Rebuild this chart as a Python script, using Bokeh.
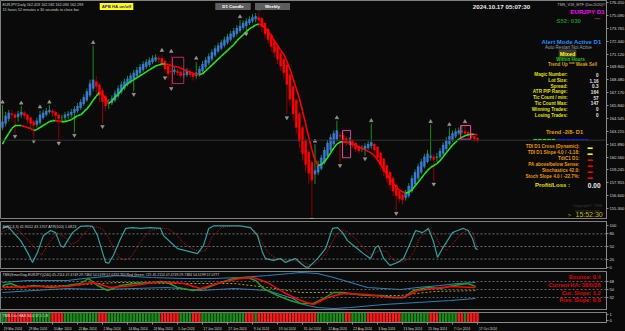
from bokeh.plotting import figure
from bokeh.layouts import column
from bokeh.models import Range1d, FixedTicker, Label, Span, NumeralTickFormatter, ColumnDataSource
from bokeh.embed import file_html
from bokeh.resources import INLINE

# ---------------- data ----------------
opens = [163.6,164.0,164.5,165.0,164.9,164.7,164.9,165.1,164.9,164.6,164.2,163.9,164.1,164.6,164.9,165.2,165.3,165.2,164.9,164.6,
         164.6,164.8,164.9,165.1,165.3,165.6,166.0,166.4,166.9,167.6,168.3,168.0,167.4,166.8,166.0,166.1,166.4,166.8,167.2,167.6,
         168.0,168.3,168.6,168.9,169.2,169.5,169.8,170.0,170.3,170.5,170.7,170.7,170.4,169.9,169.4,169.3,169.4,169.3,169.0,169.0,
         169.3,169.1,168.9,169.0,169.4,169.8,170.2,170.6,171.0,171.4,171.7,172.0,172.3,172.6,172.9,173.2,173.5,173.8,174.0,174.3,
         174.5,174.7,174.9,174.8,174.3,173.7,173.1,172.5,171.9,171.2,170.6,170.0,169.0,167.8,166.4,165.0,163.6,162.3,161.1,160.0,
         158.8,159.0,159.4,160.0,160.7,161.3,161.9,162.4,162.8,162.8,162.5,162.2,162.2,162.0,161.7,161.4,161.4,161.5,161.7,161.9,
         161.6,161.0,160.4,159.7,159.0,158.4,157.7,157.1,156.7,156.4,156.6,157.1,157.8,158.4,159.0,159.6,160.1,160.5,160.6,160.5,
         160.6,160.9,161.4,161.9,162.3,162.7,163.0,163.2,163.2,163.1,162.9,162.7,162.5]
highs = [165.9,165.2,165.4,165.4,165.1,165.3,165.8,165.3,165.0,164.7,164.4,164.6,165.3,165.4,165.6,165.9,165.5,165.3,165.0,164.9,
         165.2,165.3,165.5,165.8,166.1,166.5,167.0,167.6,168.5,172.0,168.9,168.2,167.6,167.0,166.5,166.9,167.4,167.9,168.3,168.6,
         168.9,169.2,169.5,169.8,170.1,170.4,170.6,170.8,171.0,171.1,171.0,171.1,170.5,170.0,171.0,169.8,169.6,169.4,169.4,169.7,
         169.6,169.2,170.3,169.9,170.4,170.8,171.2,171.6,172.0,172.3,172.6,172.9,173.2,173.5,173.8,174.1,174.6,174.6,174.8,175.0,
         175.2,175.3,175.4,174.9,174.4,173.8,173.2,172.6,172.0,171.4,170.8,170.2,169.2,168.0,166.6,165.2,163.8,162.5,161.3,160.2,
         161.9,160.2,160.8,161.6,162.3,162.9,163.3,164.3,163.1,163.0,162.7,162.6,162.4,162.1,161.8,161.8,162.0,162.2,164.0,162.0,
         161.7,161.1,160.5,159.8,159.1,158.5,157.8,157.2,156.9,157.2,157.9,158.7,159.3,159.9,160.4,160.9,161.3,163.9,160.9,161.0,
         161.5,162.1,162.6,163.6,163.3,163.5,163.6,163.8,163.9,163.3,163.1,162.9,162.6]
lows = [163.3,163.7,164.2,164.3,163.0,164.2,164.6,164.5,164.0,163.5,162.5,163.6,163.9,164.4,164.7,165.0,164.7,164.3,162.3,164.1,
        164.3,164.5,164.6,163.1,165.1,165.4,165.8,166.2,166.7,167.3,167.0,166.2,164.0,165.3,165.5,165.9,166.2,166.6,167.0,167.4,
        167.8,168.1,167.3,168.7,169.0,169.3,169.6,169.8,170.1,170.3,170.2,169.8,169.2,168.5,167.9,169.0,168.9,168.6,168.7,168.8,
        168.7,168.4,168.6,168.8,169.2,169.6,170.0,170.4,170.8,171.2,171.5,171.8,172.1,172.4,172.7,173.0,173.3,173.6,173.5,174.1,
        174.3,174.4,173.9,173.4,172.7,172.2,171.4,170.8,170.1,169.4,168.6,165.0,165.8,164.3,162.9,161.5,160.2,159.0,157.8,154.5,
        157.8,158.7,159.2,159.8,160.5,161.1,161.7,162.2,160.0,162.0,161.7,161.8,161.5,161.1,160.9,161.1,160.7,161.3,161.4,161.0,
        160.1,159.3,158.6,157.9,157.2,156.6,155.1,155.9,155.7,156.1,156.4,156.9,157.6,158.2,158.8,159.4,159.9,160.2,158.1,160.1,
        160.4,160.7,161.2,161.7,162.1,162.5,162.8,162.9,162.7,162.5,162.3,162.1,162.1]
closes = [164.2,164.8,165.1,164.9,164.6,165.0,165.2,164.8,164.4,164.0,163.8,164.3,164.9,165.1,165.3,165.4,165.1,164.8,164.5,164.6,
          164.9,165.0,165.2,165.5,165.8,166.2,166.7,167.3,168.1,168.5,167.8,166.9,166.2,165.8,166.1,166.6,167.1,167.6,168.0,168.3,
          168.6,168.9,169.2,169.5,169.8,170.1,170.3,170.5,170.7,170.8,170.6,170.1,169.6,169.1,169.3,169.5,169.2,168.9,169.1,169.4,
          169.0,168.8,169.2,169.6,170.1,170.5,170.9,171.3,171.7,172.0,172.3,172.6,172.9,173.2,173.5,173.8,174.0,174.3,174.5,174.7,
          174.9,175.0,174.6,173.9,173.2,172.6,171.9,171.3,170.6,169.9,169.2,168.0,166.5,165.0,163.6,162.2,160.9,159.8,158.9,158.2,
          159.2,159.8,160.5,161.3,162.0,162.6,163.0,163.3,162.7,162.3,162.0,162.2,161.8,161.4,161.2,161.5,161.7,161.9,162.1,161.3,
          160.5,159.8,159.1,158.4,157.7,157.1,156.6,156.3,156.2,156.9,157.6,158.4,159.0,159.6,160.1,160.6,160.9,160.7,160.3,160.6,
          161.2,161.8,162.3,162.7,163.0,163.2,163.3,163.25,163.0,162.8,162.6,162.4,162.3]
trend_ma = [161.9,162.5,163.0,163.5,163.8,163.8,163.8,163.7,163.6,163.5,163.3,163.4,163.6,163.8,164.0,164.2,164.3,164.3,164.25,164.2,
            164.2,164.3,164.4,164.6,164.8,164.9,165.2,165.5,165.9,166.4,166.8,167.2,167.0,166.6,166.1,166.3,166.7,167.0,167.4,167.8,
            168.1,168.3,168.5,168.7,168.9,169.1,169.3,169.5,169.7,169.9,170.0,170.1,170.1,170.05,169.95,169.85,169.8,169.7,169.55,169.4,
            169.3,169.15,169.05,169.0,169.1,169.4,169.7,170.0,170.3,170.6,170.9,171.2,171.5,171.8,172.1,172.5,172.8,173.1,173.4,173.7,
            173.9,174.1,174.2,174.1,173.8,173.4,173.0,172.5,172.0,171.5,171.1,170.4,169.6,168.6,167.6,166.6,165.3,164.0,162.6,161.3,
            160.3,159.7,159.8,160.1,160.5,161.0,161.5,161.9,162.1,162.15,162.1,162.0,161.9,161.75,161.6,161.5,161.3,161.15,161.0,160.7,
            160.3,159.8,159.3,158.8,158.3,157.9,157.5,157.2,157.0,156.9,156.95,157.2,157.6,158.0,158.4,158.8,159.2,159.5,159.7,159.9,
            160.2,160.6,161.0,161.4,161.8,162.1,162.4,162.6,162.75,162.85,162.9,162.9,162.85]
up_mark_bar = [0, 6, 12, 15, 29, 51, 54, 62, 76, 82, 100, 107, 118, 137, 143, 148]
up_mark_price = [166.2, 166.1, 165.7, 166.2, 172.3, 171.5, 171.4, 170.7, 174.95, 175.75, 162.2, 164.6, 164.3, 164.2, 163.9, 164.2]
dn_mark_bar = [4, 10, 18, 23, 32, 42, 52, 54, 78, 91, 99, 108, 116, 126, 138]
dn_mark_price = [162.7, 162.2, 162.0, 162.8, 163.7, 167.0, 168.7, 167.6, 173.2, 164.6, 154.2, 159.7, 160.4, 154.8, 157.8]
zone_left = [54.4, 108.8, 146.6]
zone_right = [58.0, 111.4, 149.8]
zone_top = [170.8, 163.3, 163.8]
zone_bottom = [168.1, 160.5, 162.4]
zone_colors = ["#b4286e", "#e0409a", "#ff40b0"]
price_ticks = [176.410, 175.090, 173.765, 172.440, 171.120, 169.800, 168.480, 167.170, 165.840, 164.545,
               163.215, 161.890, 160.560, 159.245, 157.915, 156.600, 155.300]
last_price = 162.299

date_bars = [0, 8, 16, 24, 32, 40, 48, 56, 64, 72, 80, 88, 96, 104, 112, 120, 128, 136, 144, 152]
date_labels = ["19 Mar 2024", "29 Mar 2024", "10 Apr 2024", "22 Apr 2024", "2 May 2024", "14 May 2024",
               "24 May 2024", "5 Jun 2024", "17 Jun 2024", "27 Jun 2024", "9 Jul 2024", "19 Jul 2024",
               "31 Jul 2024", "12 Aug 2024", "22 Aug 2024", "3 Sep 2024", "13 Sep 2024", "25 Sep 2024",
               "7 Oct 2024", "17 Oct 2024"]

sto_bar = [0,1.6,3.5,5.8,8,9.6,11.2,13.1,15.4,17,18.6,19.5,20.8,22.4,25,27.2,28.8,30.4,32,33,
           34,35.5,37.8,39.4,41.6,44.2,47.4,50.6,51.5,53.8,56,58.6,60.8,62.4,64.3,66,67.5,72,76,79.4,
           81.6,83.2,84.2,86.7,89,90.6,92,93.8,95.4,97,98,100.8,103.4,105.6,107.2,108.8,110.4,113,115.5,117.8,
           119.4,120.3,122,124,126.4,128.3,130.6,132.2,134.4,136.3,138,139.2,141,144,145.6,147.5,149,150.4,151.4,152]
sto_k = [93,99,83,64,36,12,36,76,88,83,52,48,64,83,98,99,98,76,36,12,
         10,29,69,93,95,93,95,93,76,60,45,40,36,33,52,93,99,99,99,95,
         76,36,21,17,21,12,17,21,10,1,1,21,45,93,95,83,64,48,33,21,
         48,52,21,5,12,21,60,88,83,93,60,24,48,83,88,93,88,69,45,42]
sig_bar = [0,3,5.5,8,10.5,12.5,15,17.5,20,22,24,26,28,30,32,34,35.5,37.5,39.5,41.5,
           44,47,50.5,53,55.5,58,60.5,63,65,67,70,74,78,81,83,85,87.5,90,92,94,
           96,98,100,102,104.5,106.5,108.5,110.5,113,115.5,118,120.5,123,125,127,129.5,131.5,133.5,136,138,
           140,142,144.5,147,149,150.5,152]
sig_d = [85,95,85,67,45,30,60,82,72,55,62,80,95,97,92,70,45,22,18,28,
         60,87,94,92,80,58,45,38,40,72,95,99,97,86,60,35,22,18,16,16,
         13,7,8,20,45,75,90,85,68,48,30,40,38,18,12,18,35,70,88,82,
         55,40,60,82,90,82,43]
sto_levels = [20, 50, 80]
sto_ticks = [0, 20, 50, 80, 100]

tdi_up_bar = [0,8,20.8,26,36.8,47.4,58,67.5,76,84.8,92,95.4,100.8,106,111.4,116.8,122,127.4,132.8,140,145.6,151.4]
tdi_up = [65.75,70.25,70.25,74.75,81.5,77,74.75,74.75,77,81.5,86,88.25,86,77,65.75,54.5,52.25,50,54.5,59,63.5,65.75]
tdi_lo_bar = [0,10,20.8,31.4,42,52.8,63.4,74,84.8,93,95.4,97.6,100.8,106,111.4,122,132.8,143.4,151.4]
tdi_lo = [43.25,47.75,52.25,50,52.25,54.5,47.75,52.25,47.75,29.75,18.5,14,9.5,7.25,9.5,16.25,20.75,25.25,29.75]
rsi_bar = [0,2.6,5.8,10,15.4,20.8,25,27.5,30.4,33.6,37.8,42,48.3,52.8,56,61,65.6,69.8,74,78.4,
           81,83.5,88,92,95.4,99.5,102.7,106,109,113.6,117.8,121,125,128.3,131.5,136,140,144.3,148.8,151.4]
rsi_val = [59,63.5,54.5,59,54.5,59,63.5,74.75,59,47.75,59,63.5,65.75,65.75,54.5,47.75,54.5,65.75,74.75,77,
           70.25,52.25,36.5,25.25,18.5,18.5,29.75,43.25,43.25,38.75,36.5,36.5,32,32,47.75,54.5,52.25,59,63.5,57]
tsig_bar = [0,10,20.8,29,34.5,42,50.6,58,63.4,69.8,76,80.3,84.8,90,95.4,99.5,104,109,116.8,124,128.3,132.8,138,143.4,151.4]
tsig_val = [54.5,56.75,56.75,65.75,54.5,59,68,63.5,52.25,65.75,74.75,77,65.75,43.25,25.25,16.25,32,41,38.75,32,32,47.75,52.25,56.75,54.5]
mbl_bar = [0,20.8,36.8,42,52.8,74,84.8,95.4,106,116.8,127.4,138,151.4]
mbl_val = [56.75,59,65.75,65.75,63.5,63.5,54.5,43.25,43.25,36.5,36.5,45.5,47.5]
tdi_levels = [32, 50, 68]

hist_state = ("GG" "RRRRRRRR" "GGGGGG" "RRRR" "GGGGGGGGGGG" "RRR" "GGGGGGGGGGGGGGGGG" "RRRRRR" "GGGG" "RRR"
              "GGGGGGGGGGGGGG" "RRR" "G" "RRRRRRRRRRRRRRRRRRR" "GGGGGGGGG" "RR" "GGGGG" "RRRRRRRRRRR"
              "GGGGGGGGG" "RRR" "GGGGGG" "RR" "G" "RRRR")

# ---------------- styling ----------------
BG = "#0a0a0a"
FONT = "Liberation Sans"
FW = 606
PX_PER_BAR = 3.125
X0 = -0.64
X1 = X0 + FW / PX_PER_BAR
RB = 19
PANEL = {}


def style_axis(ax):
    ax.axis_line_color = "#8c8c8c"
    ax.major_tick_line_color = "#8c8c8c"
    ax.major_tick_out = 2
    ax.major_tick_in = 0
    ax.minor_tick_line_color = None
    ax.major_label_text_color = "#d8d8d8"
    ax.major_label_text_font_size = "4.1px"
    ax.major_label_text_font = FONT
    ax.major_label_standoff = 1


def make_fig(top, frame_h, ylo, yhi, border_top, xaxis=False, border_bottom=0):
    p = figure(frame_width=FW, frame_height=frame_h,
               x_range=Range1d(X0, X1), y_range=Range1d(ylo, yhi),
               output_backend="svg", toolbar_location=None,
               y_axis_location="right", x_axis_location=("below" if xaxis else None),
               background_fill_color=BG, border_fill_color=BG,
               min_border_left=0, min_border_right=RB, min_border_top=border_top,
               min_border_bottom=border_bottom)
    p.xgrid.visible = False
    p.ygrid.visible = False
    p.outline_line_color = "#808080"
    p.outline_line_width = 1
    style_axis(p.yaxis[0])
    PANEL[id(p)] = (top, frame_h)
    return p


def put(p, px, py, text, color, size, bold=False, align="left", bg=None, pad=0, font=FONT):
    top, fh = PANEL[id(p)]
    xr, yr = p.x_range, p.y_range
    x = xr.start + px * (xr.end - xr.start) / FW
    y = yr.end - (py - top) * (yr.end - yr.start) / fh
    kw = dict(x=x, y=y, text=text, text_color=color, text_font_size=f"{size}px",
              text_font=font, text_font_style=("bold" if bold else "normal"),
              text_align=align, text_baseline="middle")
    if bg is not None:
        kw.update(background_fill_color=bg, padding=pad)
    p.add_layout(Label(**kw))


# ---------------- main price panel ----------------
main = make_fig(0, 219, 154.17, 176.615, 0)
main.yaxis[0].ticker = FixedTicker(ticks=price_ticks)
main.yaxis[0].formatter = NumeralTickFormatter(format="0.000")

n = len(closes)
bars = list(range(n))
bull = [c >= o for o, c in zip(opens, closes)]
src = ColumnDataSource(dict(
    x=bars, o=opens, h=highs, l=lows, c=closes,
    body=["#3b78d8" if b else "#ff0000" for b in bull],
    wick=["#1e8c1e" if b else "#8b0000" for b in bull]))
main.add_layout(Span(location=last_price, dimension="width", line_color="#333333", line_width=1))
main.segment(x0="x", y0="l", x1="x", y1="h", color="wick", line_width=1, source=src)
main.vbar(x="x", width=0.7, top="o", bottom="c", fill_color="body", line_color="body", line_width=0.3, source=src)

ma_col = ["#22e622" if b >= a else "#ff0000" for a, b in zip(trend_ma[:-1], trend_ma[1:])]
main.segment(x0=bars[:-1], y0=trend_ma[:-1], x1=bars[1:], y1=trend_ma[1:], color=ma_col, line_width=1.6)

main.quad(left=zone_left, right=zone_right, top=zone_top, bottom=zone_bottom,
          fill_color=None, line_color=zone_colors, line_width=1)

main.scatter(up_mark_bar, up_mark_price, marker="triangle", size=3.6, fill_color="#8e8e8e", line_color="#bdbdbd", line_width=0.4)
main.scatter(dn_mark_bar, dn_mark_price, marker="inverted_triangle", size=3.6, fill_color="#8e8e8e", line_color="#bdbdbd", line_width=0.4)

# price box on the axis
main.add_layout(Label(x=X1 + 0.35, y=last_price, text=f"{last_price:.3f}", text_color="#000000",
                      text_font_size="4.1px", text_font=FONT, text_baseline="middle",
                      background_fill_color="#f0f0f0", padding=1))

put(main, 2, 4, "EURJPY,Daily  162.419 162.582 162.094 162.299", "#cfcfcf", 3.7)
put(main, 2, 9.5, "15 hours 52 minutes e 30 seconds to close bar", "#cfcfcf", 3.7)
put(main, 116, 6, "APB HA on/off", "#1a1acd", 4.3, bold=True, align="center", bg="#ffff00", pad=(2, 1))
put(main, 232.5, 6, "D1 Candle", "#ffffff", 4.4, bold=True, align="center", bg="#5e5e5e", pad=(7, 1))
put(main, 272, 6, "Weekly", "#ffffff", 4.4, bold=True, align="center", bg="#5e5e5e", pad=(10, 1))
put(main, 501, 6, "2024.10.17 05:07:30", "#e8e8e8", 6.2, bold=True, align="center")
put(main, 581, 4, "TMS_V18_MTF (Dec2020)\u00a9", "#bdbdbd", 3.8, align="center")
put(main, 587, 10.5, "EURJPY D1", "#ff00ff", 6.2, bold=True, align="center")
put(main, 556, 20, "S52: 030", "#1e8c1e", 6, bold=True)
put(main, 594, 19, "''''''", "#c08020", 5)
put(main, 571, 41, "Alert Mode Active D1", "#1e90ff", 6, bold=True, align="center")
put(main, 568, 47, "Auto Restart Not Active", "#a0a0a0", 4.5, align="center")
put(main, 567, 53, "Mixed", "#ffff00", 5.5, bold=True, align="center", bg="#3a3a3a", pad=1)
put(main, 570, 58.5, "Within Hours", "#22cc22", 4.6, bold=True, align="center")
put(main, 572, 64, "Trend Up *** Weak Sell", "#d4a017", 4.6, bold=True, align="center")

stat_labels = ["Magic Number:", "Lot Size:", "Spread:", "ATR PIP Range:", "Tic Count / min:",
               "Tic Count Max:", "Winning Trades:", "Losing Trades:"]
stat_values = ["0", "1.16", "0.3", "164", "57", "147", "0", "0"]
stat_y = [74, 80, 85.5, 91, 97, 102.5, 108.5, 114.5]
for lab, val, yy in zip(stat_labels, stat_values, stat_y):
    put(main, 567, yy, lab, "#e0e000", 4.6, bold=True, align="right")
    put(main, 598, yy, val, "#e8e8e8", 4.6, bold=True, align="right")

put(main, 564, 131, "Trend -2/8- D1", "#e0a000", 5.6, bold=True, align="center")
put(main, 533, 138.5, "\u25ac \u25ac \u25ac \u25ac \u25ac", "#22dd22", 3.6)
put(main, 557, 138.5, "\u25ac \u25ac \u25ac \u25ac \u25ac \u25ac \u25ac", "#1a1aff", 3.6)

ind_labels = ["TDI D1 Cross (Dynamic):", "TDI D1 Slope 4.0 / -1.18:", "TdiC1 D1:",
              "PA above/below Sense:", "Stochastics 42.0:", "Stoch Slope 4.0 / -22.7%:"]
ind_colors = ["#ffff00", "#ffff00", "#ff0000", "#ff0000", "#ff0000", "#ff0000"]
ind_y = [146, 152, 158, 164, 170, 176]
for lab, col, yy in zip(ind_labels, ind_colors, ind_y):
    put(main, 579, yy, lab, "#e89a00", 4.6, bold=True, align="right")
    put(main, 587, yy, "\u25ac", col, 5)

put(main, 552, 184, "Profit/Loss :", "#e0e000", 6, bold=True, align="center")
put(main, 600, 185, "0.00", "#f0f0f0", 6.5, bold=True, align="right")
put(main, 587, 204.5, "Copyright\u00a9 TMS", "#3c3c3c", 4, align="center")
put(main, 587, 209.5, "www.tms.com", "#3c3c3c", 4, align="center")
put(main, 567, 214, ">", "#b4a800", 6)
put(main, 575, 214, "15:52:30", "#c8b800", 7)

# ---------------- stochastic panel ----------------
sto = make_fig(221, 48, -4.8, 109.5, 2)
sto.yaxis[0].ticker = FixedTicker(ticks=sto_ticks)
for lv in sto_levels:
    sto.add_layout(Span(location=lv, dimension="width", line_color="#8a8a8a", line_width=0.8, line_dash="2 2"))
sto.line(sig_bar, sig_d, line_color="#b01818", line_width=1, line_dash="1 1")
sto.line(sto_bar, sto_k, line_color="#2fa0a0", line_width=1.2)
put(sto, 2, 226, "Sto(5,3,3) 41.9012 43.1707  ATR(100) 1.6823", "#d0d0d0", 3.7)

# ---------------- TDI panel ----------------
tdi = make_fig(271, 39, 2.75, 90.5, 2)
tdi.yaxis[0].ticker = FixedTicker(ticks=tdi_levels)
for lv in tdi_levels:
    tdi.add_layout(Span(location=lv, dimension="width", line_color="#7a7a7a", line_width=0.8, line_dash="2 2"))
tdi.line(tdi_up_bar, tdi_up, line_color="#2a7fb8", line_width=1.1)
tdi.line(tdi_lo_bar, tdi_lo, line_color="#2a7fb8", line_width=1.1)
tdi.line(mbl_bar, mbl_val, line_color="#a0a020", line_width=1, line_dash="2 2")
tdi.line(rsi_bar, rsi_val, line_color="#1e9e1e", line_width=1.4)
tdi.line(tsig_bar, tsig_val, line_color="#ff0000", line_width=1.4)
put(tdi, 2, 274, "TMS(SmartDog-EURJPY)(240) 45.2114 47.4749 29.7384 54.5199 57.0777   TDI Red Green: #25 45.2114 47.4749 29.7384 54.5199 57.0777",
    "#d0d0d0", 3.5)
put(tdi, 600, 276, "Bounce: 0.4", "#e00000", 5.6, bold=True, align="right")
put(tdi, 600, 284, "Current HA: 38/0/26", "#e00000", 5.6, bold=True, align="right")
put(tdi, 600, 292, "Cur. Slope: 1.2", "#e00000", 5.6, bold=True, align="right")
put(tdi, 600, 299.5, "Prev. Slope: 0.8", "#e00000", 5.6, bold=True, align="right")

# ---------------- histogram panel + date axis ----------------
H_LO, H_HI = -0.333, 1.333
hist = make_fig(312, 10, H_LO, H_HI, 2, xaxis=True, border_bottom=9)
hist.yaxis[0].ticker = FixedTicker(ticks=[0, 1])
hcol = ["#1a8c1a" if s == "G" else "#ff1a1a" for s in hist_state]
hist.vbar(x=list(range(len(hcol))), width=0.8, top=H_HI, bottom=H_LO, fill_color=hcol, line_color=None)
put(hist, 2, 315, "TMS-Osc HAS 34.0 37.1 1.8", "#e0e0e0", 3.6)

# date labels start at their bar (MT4 style): centre each label half its width to the right
DATE_FS = 3.3
CHAR_W = {" ": 0.278, "M": 0.833, "A": 0.667, "J": 0.5, "S": 0.667, "O": 0.778}


def text_w(t):
    return sum(CHAR_W.get(ch, 0.556 if ch.isdigit() else 0.5) for ch in t) * DATE_FS


label_centres = [round(b + (text_w(t) / 2 + 1) / PX_PER_BAR, 3) for b, t in zip(date_bars, date_labels)]
xa = hist.xaxis[0]
style_axis(xa)
xa.ticker = FixedTicker(ticks=label_centres, minor_ticks=date_bars)
xa.major_label_overrides = {c: t for c, t in zip(label_centres, date_labels)}
xa.major_tick_line_color = None
xa.major_tick_out = 0
xa.minor_tick_line_color = "#8c8c8c"
xa.minor_tick_out = 2
xa.minor_tick_in = 0
xa.major_label_text_font_size = f"{DATE_FS}px"
xa.major_label_standoff = 2

layout = column(main, sto, tdi, hist, spacing=0, styles={"background-color": BG})
open("out.html", "w").write(file_html(layout, INLINE))
